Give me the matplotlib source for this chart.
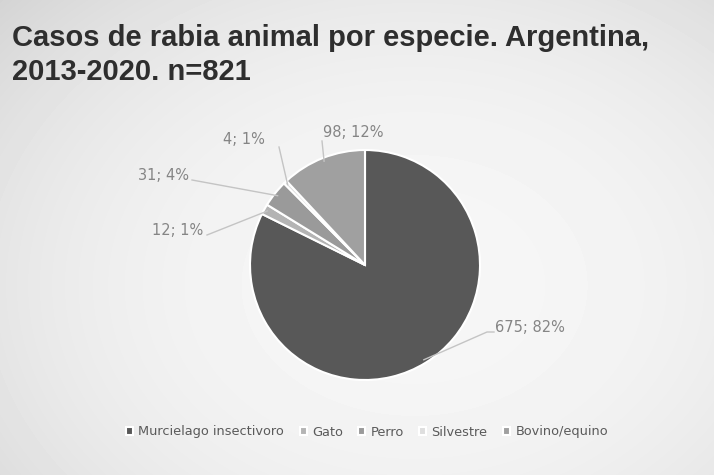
import numpy as np
import matplotlib.pyplot as plt

especies = ['Murcielago insectivoro', 'Gato', 'Perro', 'Silvestre', 'Bovino/equino']
casos = [675, 12, 31, 4, 98]
porcentajes = [82, 1, 4, 1, 12]
colores = ['#585858', '#b4b4b4', '#9a9a9a', '#dedede', '#a0a0a0']

W, H = 714, 475
cx, cy, R = 365, 265, 115

fig = plt.figure(figsize=(W / 100, H / 100), dpi=100)

# fondo tipo foto de diapositiva (viñeta suave)
bg = fig.add_axes([0, 0, 1, 1])
yy, xx = np.mgrid[0:H, 0:W]
d = np.sqrt(((xx - W * 0.58) / (W * 0.75)) ** 2 + ((yy - H * 0.6) / (H * 0.85)) ** 2)
bg.imshow(0.965 - 0.12 * d ** 2.4, cmap='gray', vmin=0, vmax=1, aspect='auto')
bg.axis('off')

ax = fig.add_axes([0, 0, 1, 1], facecolor='none')
wedges, _ = ax.pie(casos, colors=colores, startangle=90, counterclock=False,
                   radius=1, center=(0, 0), frame=True,
                   wedgeprops=dict(edgecolor='white', linewidth=1.5))
ax.set_xlim(-cx / R, (W - cx) / R)
ax.set_ylim(-(H - cy) / R, cy / R)
ax.axis('off')

# posiciones de las etiquetas (pixeles) y punto final de la línea guía
pos_etiquetas = [(530, 327), (178, 231), (164, 176), (244, 139), (353, 133)]
fin_linea = [[(494, 332), (487, 332)], [(207, 235)], [(192, 180)], [(279, 147)], [(322, 141)]]

def px(p):
    return (p[0] - cx) / R, (cy - p[1]) / R

for w, n, pc, p, fl in zip(wedges, casos, porcentajes, pos_etiquetas, fin_linea):
    ang = np.deg2rad((w.theta1 + w.theta2) / 2)
    borde = (0.97 * np.cos(ang), 0.97 * np.sin(ang))
    pts = [px(q) for q in fl] + [borde]
    ax.plot([q[0] for q in pts], [q[1] for q in pts], color='#c4c4c4', lw=1)
    x, y = px(p)
    ax.text(x, y, f'{n}; {pc}%', ha='center', va='center', fontsize=10.5,
            color='#858585', family='DejaVu Sans')

fig.text(12 / W, 1 - 38 / H, 'Casos de rabia animal por especie. Argentina,',
         fontsize=21, fontweight='bold', color='#2e2e2e', va='center',
         family='Liberation Sans')
fig.text(12 / W, 1 - 72 / H, '2013-2020. n=821',
         fontsize=21, fontweight='bold', color='#2e2e2e', va='center',
         family='Liberation Sans')

fig.legend(wedges, especies, loc='center', bbox_to_anchor=(367 / W, 1 - 432 / H),
           ncol=5, frameon=False, handlelength=0.55, handleheight=0.55,
           handletextpad=0.4, columnspacing=1.2, labelcolor='#5a5a5a',
           prop={'size': 9.3, 'family': 'DejaVu Sans'})

fig.savefig('out.png', dpi=100)
